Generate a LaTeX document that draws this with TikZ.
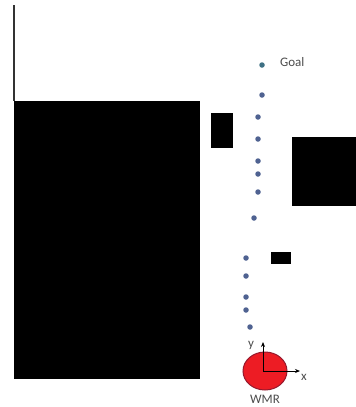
\documentclass[tikz,border=0pt]{standalone}
\usepackage{fontspec}
\setmainfont{Carlito}
\usetikzlibrary{arrows.meta,positioning,shapes.geometric}
\definecolor{dotblue}{RGB}{79,98,145}
\definecolor{goalteal}{RGB}{62,112,132}
\definecolor{robotred}{RGB}{237,28,36}
\definecolor{robotedge}{RGB}{150,25,45}

\begin{document}
\begin{tikzpicture}[x=1pt, y=-1pt, >={Stealth[length=5pt,width=4pt]},
  waypoint/.style={circle, fill=dotblue, inner sep=0pt, minimum size=5.5pt},
  obstacle/.style={fill=black},
  lbl/.style={font=\fontsize{13}{15}\selectfont, text=black!70, inner sep=1pt}]
\path[use as bounding box] (0,0) rectangle (356,407);
% obstacles
\draw[line width=1.5pt, black!80] (14,5) -- (14,101);
\fill[obstacle] (14,101) rectangle (200,379);
\fill[obstacle] (211,113) rectangle (233,148);
\fill[obstacle] (292,137) rectangle (356,206);
\fill[obstacle] (271,252) rectangle (291,264);
% path
\node[waypoint, fill=goalteal] (P0) at (262,65) {};
\node[waypoint] (P1) at (262,95) {};
\node[waypoint] (P2) at (258,117) {};
\node[waypoint] (P3) at (258,139) {};
\node[waypoint] (P4) at (258,161) {};
\node[waypoint] (P5) at (258,174) {};
\node[waypoint] (P6) at (258,192) {};
\node[waypoint] (P7) at (254,218) {};
\node[waypoint] (P8) at (246,258) {};
\node[waypoint] (P9) at (246,276) {};
\node[waypoint] (P10) at (246,297) {};
\node[waypoint] (P11) at (246,310) {};
\node[waypoint] (P12) at (250,327) {};
\node[lbl, right=14pt of P0, yshift=3pt] (goal) {Goal};
% robot
\node[ellipse, draw=robotedge, line width=1pt, fill=robotred, minimum width=44pt, minimum height=38pt, inner sep=0pt] (wmr) at (265,371) {};
\coordinate (xend) at (300,371);
\coordinate (yend) at (263,342);
\draw[->, line width=0.8pt] (263,371) -- (xend);
\draw[->, line width=0.8pt] (263,371) -- (yend);
\node[lbl] (xlab) at (304,377) {x};
\node[lbl] (ylab) at (251,345) {y};
\node[lbl, below=3pt of wmr] (name) {WMR};
\end{tikzpicture}
\end{document}
